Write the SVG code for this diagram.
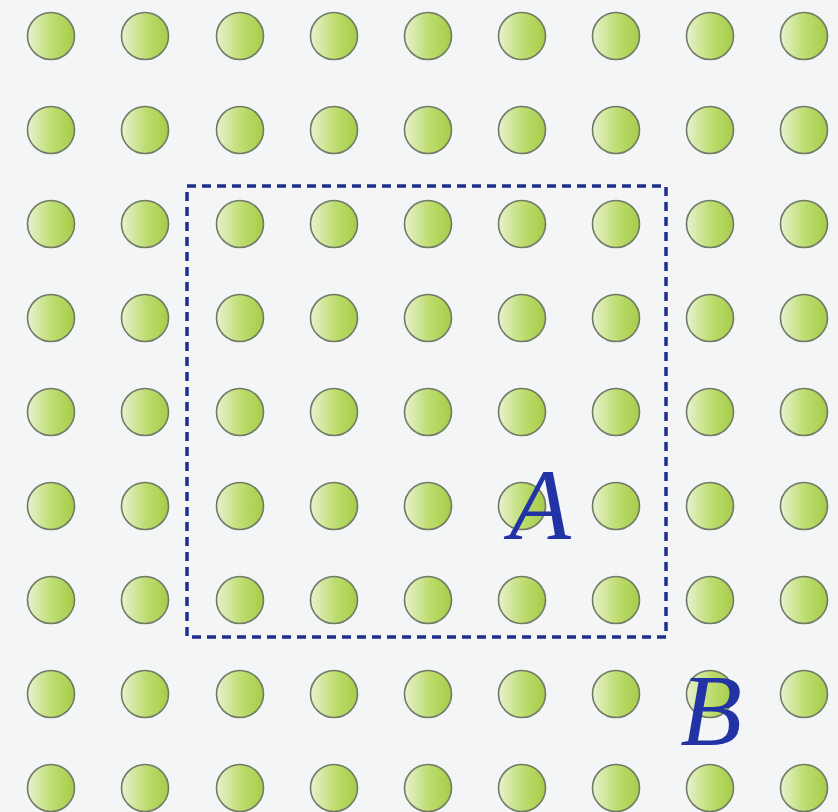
<svg xmlns="http://www.w3.org/2000/svg" width="838" height="812" viewBox="0 0 838 812">
<defs>
<linearGradient id="g" x1="0" y1="0" x2="1" y2="0">
<stop offset="0" stop-color="#e8f2cf"/>
<stop offset="0.55" stop-color="#bcdc6c"/>
<stop offset="1" stop-color="#a6cc4a"/>
</linearGradient>
<circle id="d" r="23.5" fill="url(#g)" stroke="#707a66" stroke-width="1.6"/>
</defs>
<style>
.lbl{font-family:"Liberation Serif","DejaVu Serif",serif;font-style:italic;font-size:101px;fill:#2233a6;text-anchor:middle}
</style>
<rect width="838" height="812" fill="#f3f5f7"/>
<g id="dots">
<use href="#d" x="51" y="36"/><use href="#d" x="145" y="36"/><use href="#d" x="240" y="36"/><use href="#d" x="334" y="36"/><use href="#d" x="428" y="36"/><use href="#d" x="522" y="36"/><use href="#d" x="616" y="36"/><use href="#d" x="710" y="36"/><use href="#d" x="804" y="36"/>
<use href="#d" x="51" y="130"/><use href="#d" x="145" y="130"/><use href="#d" x="240" y="130"/><use href="#d" x="334" y="130"/><use href="#d" x="428" y="130"/><use href="#d" x="522" y="130"/><use href="#d" x="616" y="130"/><use href="#d" x="710" y="130"/><use href="#d" x="804" y="130"/>
<use href="#d" x="51" y="224"/><use href="#d" x="145" y="224"/><use href="#d" x="240" y="224"/><use href="#d" x="334" y="224"/><use href="#d" x="428" y="224"/><use href="#d" x="522" y="224"/><use href="#d" x="616" y="224"/><use href="#d" x="710" y="224"/><use href="#d" x="804" y="224"/>
<use href="#d" x="51" y="318"/><use href="#d" x="145" y="318"/><use href="#d" x="240" y="318"/><use href="#d" x="334" y="318"/><use href="#d" x="428" y="318"/><use href="#d" x="522" y="318"/><use href="#d" x="616" y="318"/><use href="#d" x="710" y="318"/><use href="#d" x="804" y="318"/>
<use href="#d" x="51" y="412"/><use href="#d" x="145" y="412"/><use href="#d" x="240" y="412"/><use href="#d" x="334" y="412"/><use href="#d" x="428" y="412"/><use href="#d" x="522" y="412"/><use href="#d" x="616" y="412"/><use href="#d" x="710" y="412"/><use href="#d" x="804" y="412"/>
<use href="#d" x="51" y="506"/><use href="#d" x="145" y="506"/><use href="#d" x="240" y="506"/><use href="#d" x="334" y="506"/><use href="#d" x="428" y="506"/><use href="#d" x="522" y="506"/><use href="#d" x="616" y="506"/><use href="#d" x="710" y="506"/><use href="#d" x="804" y="506"/>
<use href="#d" x="51" y="600"/><use href="#d" x="145" y="600"/><use href="#d" x="240" y="600"/><use href="#d" x="334" y="600"/><use href="#d" x="428" y="600"/><use href="#d" x="522" y="600"/><use href="#d" x="616" y="600"/><use href="#d" x="710" y="600"/><use href="#d" x="804" y="600"/>
<use href="#d" x="51" y="694"/><use href="#d" x="145" y="694"/><use href="#d" x="240" y="694"/><use href="#d" x="334" y="694"/><use href="#d" x="428" y="694"/><use href="#d" x="522" y="694"/><use href="#d" x="616" y="694"/><use href="#d" x="710" y="694"/><use href="#d" x="804" y="694"/>
<use href="#d" x="51" y="788"/><use href="#d" x="145" y="788"/><use href="#d" x="240" y="788"/><use href="#d" x="334" y="788"/><use href="#d" x="428" y="788"/><use href="#d" x="522" y="788"/><use href="#d" x="616" y="788"/><use href="#d" x="710" y="788"/><use href="#d" x="804" y="788"/>
</g>
<g id="region-A">
<rect x="187" y="186" width="479" height="451" fill="none" stroke="#1f2f8f" stroke-width="3.5" stroke-dasharray="9,6"/>
<text class="lbl" x="540" y="539">A</text>
</g>
<g id="label-B">
<text class="lbl" x="711" y="745">B</text>
</g>
</svg>
